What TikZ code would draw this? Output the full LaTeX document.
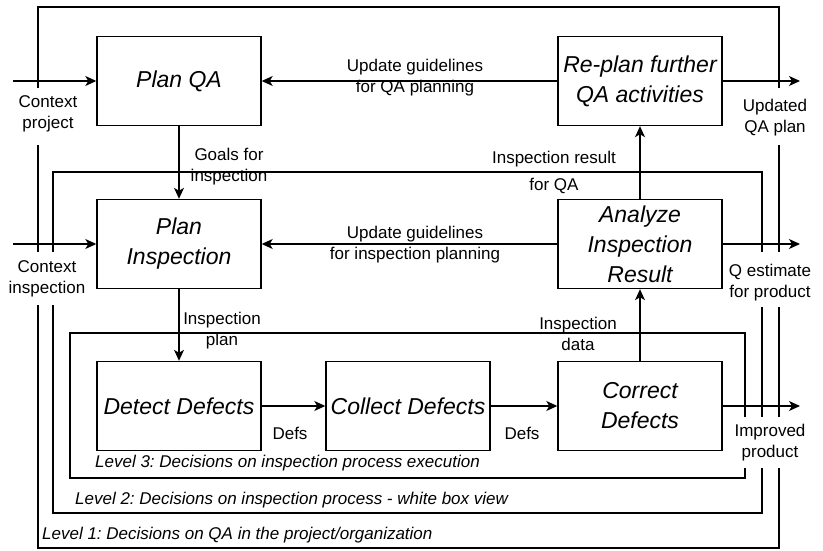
\documentclass[tikz,border=0pt]{standalone}
\usepackage{fontspec}
\setmainfont{Liberation Sans}
\usetikzlibrary{arrows.meta}
\frenchspacing
\begin{document}
\begin{tikzpicture}[x=1pt,y=-1pt,
  proc/.style={draw, line width=1.4pt, minimum width=164pt, minimum height=89pt,
    inner sep=0pt, align=center, font=\fontsize{23}{30}\selectfont\itshape},
  flow/.style={line width=1.2pt, -{Stealth[length=11pt,width=10pt,inset=3pt]}},
  levelframe/.style={line width=2.5pt, line join=miter},
  lbl/.style={align=center, inner sep=0pt, font=\fontsize{17}{21}\selectfont},
  lvl/.style={anchor=west, inner sep=0pt, font=\fontsize{17}{21}\selectfont\itshape}]

\useasboundingbox (0,0) rectangle (823,551);

% decision levels (frames open where the side labels sit)
\draw[levelframe] (38,88) -- (38,7) -- (779,7) -- (779,88)
  (779,145) -- (779,252) (779,307) -- (779,417)
  (779,468) -- (779,548) -- (38,548) -- (38,305) (38,252) -- (38,145);
\draw[levelframe] (53,252) -- (53,172) -- (762,172) -- (762,252)
  (762,307) -- (762,417) (762,468) -- (762,513) -- (53,513) -- (53,305);
\draw[levelframe] (745,417) -- (745,333) -- (70,333) -- (70,478) -- (745,478) -- (745,468);

% activities
\node[proc] (planqa)   at (179,81)  {Plan QA};
\node[proc] (replan)   at (640,81)  {Re-plan further\\QA activities};
\node[proc] (planinsp) at (179,244) {Plan\\Inspection};
\node[proc] (analyze)  at (640,244) {Analyze\\Inspection\\Result};
\node[proc] (detect)   at (179,406) {Detect Defects};
\node[proc] (collect)  at (408,406) {Collect Defects};
\node[proc] (correct)  at (640,406) {Correct\\Defects};

% external inputs and outputs
\coordinate (inqa)    at (13,81);
\coordinate (ininsp)  at (13,244);
\coordinate (outqa)   at (800,81);
\coordinate (outest)  at (800,244);
\coordinate (outprod) at (800,406);

% flows
\draw[flow] (inqa) -- (planqa.west);
\draw[flow] (ininsp) -- (planinsp.west);
\draw[flow] (replan.west) -- (planqa.east);
\draw[flow] (analyze.west) -- (planinsp.east);
\draw[flow] (replan.east) -- (outqa);
\draw[flow] (analyze.east) -- (outest);
\draw[flow] (correct.east) -- (outprod);
\draw[flow] (planqa.south) -- (planinsp.north);
\draw[flow] (planinsp.south) -- (detect.north);
\draw[flow] (analyze.north) -- (replan.south);
\draw[flow] (correct.north) -- (analyze.south);
\draw[flow] (detect.east) -- (collect.west);
\draw[flow] (collect.east) -- (correct.west);

% flow labels
\node[lbl] (lctxp)  at (48,114)  {Context\\project};
\node[lbl] (lctxi)  at (47,279)  {Context\\inspection};
\node[lbl] (lupqa)  at (415,78)  {Update guidelines\\for QA planning};
\node[lbl] (lupin)  at (415,245) {Update guidelines\\for inspection planning};
\node[lbl] (lgoals) at (229,167) {Goals for\\inspection};
\node[lbl, font=\fontsize{17}{27}\selectfont] (lresqa) at (554,172) {Inspection result\\for QA};
\node[lbl] (lplan)  at (222,331) {Inspection\\plan};
\node[lbl] (ldata)  at (578,334) {Inspection\\data};
\node[lbl] (lupd)   at (775,118) {Updated\\QA plan};
\node[lbl] (lqest)  at (770,283) {Q estimate\\for product};
\node[lbl] (limpr)  at (770,443) {Improved\\product};
\node[lbl] (ldefs1) at (290,433) {Defs};
\node[lbl] (ldefs2) at (522,433) {Defs};

% level captions
\node[lvl] (lv3) at (95,463) {Level 3: Decisions on inspection process execution};
\node[lvl] (lv2) at (75,500) {Level 2: Decisions on inspection process - white box view};
\node[lvl] (lv1) at (42,535) {Level 1: Decisions on QA in the project/organization};
\end{tikzpicture}
\end{document}
